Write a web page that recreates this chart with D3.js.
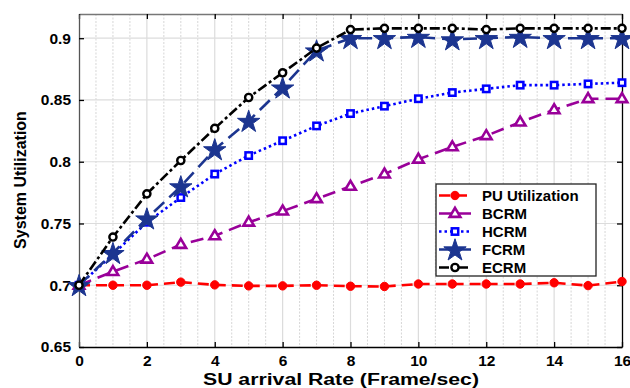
<!DOCTYPE html>
<html>
<head>
<meta charset="utf-8">
<script src="https://cdn.jsdelivr.net/npm/d3@7"></script>
<style>
  html, body { margin: 0; padding: 0; background: #fff; }
  svg { display: block; font-family: "Liberation Sans", Arial, sans-serif; }
</style>
</head>
<body>
<svg id="chart" width="630" height="388"></svg>
<script>
// SU arrival rate (frames/sec)
const rates = [0,1,2,3,4,5,6,7,8,9,10,11,12,13,14,15,16];

const puUtil = [0.700,0.700,0.700,0.7025,0.7003,0.6995,0.6995,0.700,0.6992,0.699,0.701,0.701,0.701,0.701,0.702,0.6997,0.703];
const bcrm   = [0.700,0.711,0.721,0.733,0.740,0.751,0.760,0.770,0.780,0.790,0.802,0.812,0.821,0.832,0.842,0.851,0.851];
const hcrm   = [0.700,0.725,0.751,0.771,0.790,0.805,0.817,0.829,0.839,0.845,0.851,0.856,0.859,0.862,0.862,0.863,0.864];
const fcrm   = [0.700,0.726,0.754,0.780,0.810,0.833,0.860,0.890,0.900,0.900,0.901,0.899,0.900,0.901,0.900,0.900,0.900];
const ecrm   = [0.700,0.739,0.774,0.801,0.827,0.852,0.872,0.892,0.907,0.908,0.908,0.908,0.907,0.908,0.908,0.908,0.908];

const xTicks = [0,2,4,6,8,10,12,14,16];
const yTicks = [0.65,0.7,0.75,0.8,0.85,0.9];
const yTickLabels = ["0.65","0.7","0.75","0.8","0.85","0.9"];

const seriesNames = ["PU Utilization","BCRM","HCRM","FCRM","ECRM"];
const seriesValues = [puUtil, bcrm, hcrm, fcrm, ecrm];

const styles = [
  { color: "#ff0000", dash: "11,6",        marker: "circleFilled", width: 2.6 },
  { color: "#990099", dash: "13,7",        marker: "triangle",     width: 2.6 },
  { color: "#0000ff", dash: "2.5,3",       marker: "square",       width: 2.6 },
  { color: "#1c3590", dash: "14,7",        marker: "star",         width: 2.6 },
  { color: "#000000", dash: "10,3,3,3",    marker: "circleOpen",   width: 2.6 }
];

const svg = d3.select("#chart");
const m = { left: 79, right: 622, top: 14, bottom: 347 };

const x = d3.scaleLinear().domain([0, 16]).range([m.left, m.right]);
const y = d3.scaleLinear().domain([0.65, 0.9196]).range([m.bottom, m.top]);

// grid: dotted minor vertical lines every 0.5, solid major lines at the ticks
const g = svg.append("g");
d3.range(0, 16.01, 0.5).forEach(v => {
  const major = xTicks.includes(v);
  if (v === 0 || v === 16) return;
  g.append("line")
    .attr("x1", x(v)).attr("x2", x(v))
    .attr("y1", m.top).attr("y2", m.bottom)
    .attr("stroke", major ? "#dcdcdc" : "#d6d6d6")
    .attr("stroke-width", major ? 1.2 : 1)
    .attr("stroke-dasharray", major ? null : "2,1.5");
});
yTicks.forEach(v => {
  if (v === 0.65) return;
  g.append("line")
    .attr("x1", m.left).attr("x2", m.right)
    .attr("y1", y(v)).attr("y2", y(v))
    .attr("stroke", "#dcdcdc").attr("stroke-width", 1.2);
});

// axes
const xAxisB = d3.axisBottom(x).tickValues(xTicks).tickSizeInner(-5).tickSizeOuter(0).tickPadding(8);
const xAxisT = d3.axisTop(x).tickValues(xTicks).tickSizeInner(-5).tickSizeOuter(0).tickFormat("");
const yAxisL = d3.axisLeft(y).tickValues(yTicks).tickSizeInner(-5).tickSizeOuter(0).tickPadding(8)
  .tickFormat((d, i) => yTickLabels[i]);
const yAxisR = d3.axisRight(y).tickValues(yTicks).tickSizeInner(-5).tickSizeOuter(0).tickFormat("");

function styleAxis(sel, col) {
  sel.select(".domain").attr("stroke", col).attr("stroke-width", 1.3);
  sel.selectAll(".tick line").attr("stroke", "#000").attr("stroke-width", 1.3);
  sel.selectAll(".tick text").attr("fill", "#000").attr("font-size", "15.5px").attr("font-weight", "bold")
    .attr("font-family", "Liberation Sans, Arial, sans-serif");
}
styleAxis(svg.append("g").attr("transform", `translate(0,${m.top})`).call(xAxisT), "#777");
styleAxis(svg.append("g").attr("transform", `translate(${m.right},0)`).call(yAxisR), "#000");
styleAxis(svg.append("g").attr("transform", `translate(0,${m.bottom})`).call(xAxisB), "#000");
styleAxis(svg.append("g").attr("transform", `translate(${m.left},0)`).call(yAxisL), "#555");

// axis titles
svg.append("text")
  .attr("x", 341).attr("y", 385)
  .attr("text-anchor", "middle").attr("font-size", "16px").attr("font-weight", "bold")
  .attr("textLength", 276).attr("lengthAdjust", "spacingAndGlyphs")
  .text("SU arrival Rate (Frame/sec)");
svg.append("text")
  .attr("transform", `translate(26,180) rotate(-90)`)
  .attr("text-anchor", "middle").attr("font-size", "16px").attr("font-weight", "bold")
  .text("System Utilization");

// marker drawing
function drawMarker(sel, type, color, cx, cy) {
  if (type === "circleFilled") {
    sel.append("circle").attr("cx", cx).attr("cy", cy).attr("r", 4.2)
      .attr("fill", color).attr("stroke", color).attr("stroke-width", 1);
  } else if (type === "circleOpen") {
    sel.append("circle").attr("cx", cx).attr("cy", cy).attr("r", 3.6)
      .attr("fill", "#fff").attr("stroke", color).attr("stroke-width", 2.4);
  } else if (type === "square") {
    const s = 6.4;
    sel.append("rect").attr("x", cx - s / 2).attr("y", cy - s / 2).attr("width", s).attr("height", s)
      .attr("fill", "#fff").attr("stroke", color).attr("stroke-width", 2.5);
  } else if (type === "triangle") {
    const r = 5.6;
    const p = [[cx, cy - r], [cx + r * 0.95, cy + r * 0.6], [cx - r * 0.95, cy + r * 0.6]];
    sel.append("path").attr("d", "M" + p.join("L") + "Z")
      .attr("fill", "#fff").attr("stroke", color).attr("stroke-width", 2.6).attr("stroke-linejoin", "miter");
  } else if (type === "star") {
    sel.append("path")
      .attr("d", d3.symbol().type(d3.symbolStar).size(155)())
      .attr("transform", `translate(${cx},${cy + 1})`)
      .attr("fill", color).attr("stroke", color).attr("stroke-width", 1);
  }
}

// series lines and markers
const line = d3.line().x((d, i) => x(rates[i])).y(d => y(d));
seriesValues.forEach((vals, k) => {
  const st = styles[k];
  const gs = svg.append("g");
  gs.append("path").datum(vals).attr("d", line)
    .attr("fill", "none").attr("stroke", st.color).attr("stroke-width", st.width)
    .attr("stroke-dasharray", st.dash);
  vals.forEach((v, i) => drawMarker(gs, st.marker, st.color, x(rates[i]), y(v)));
});

// legend
const lg = svg.append("g");
lg.append("rect").attr("x", 436).attr("y", 184).attr("width", 160).attr("height", 92)
  .attr("fill", "#fff").attr("stroke", "#222").attr("stroke-width", 1.3);
seriesNames.forEach((name, k) => {
  const st = styles[k];
  const ly = 195.5 + k * 18;
  lg.append("line").attr("x1", 439).attr("x2", 471).attr("y1", ly).attr("y2", ly)
    .attr("stroke", st.color).attr("stroke-width", st.width).attr("stroke-dasharray", st.dash);
  drawMarker(lg, st.marker, st.color, 455, ly);
  lg.append("text").attr("x", 482).attr("y", ly + 5.5)
    .attr("font-size", "15px").attr("font-weight", "bold").attr("fill", "#000").text(name);
});
</script>
</body>
</html>
